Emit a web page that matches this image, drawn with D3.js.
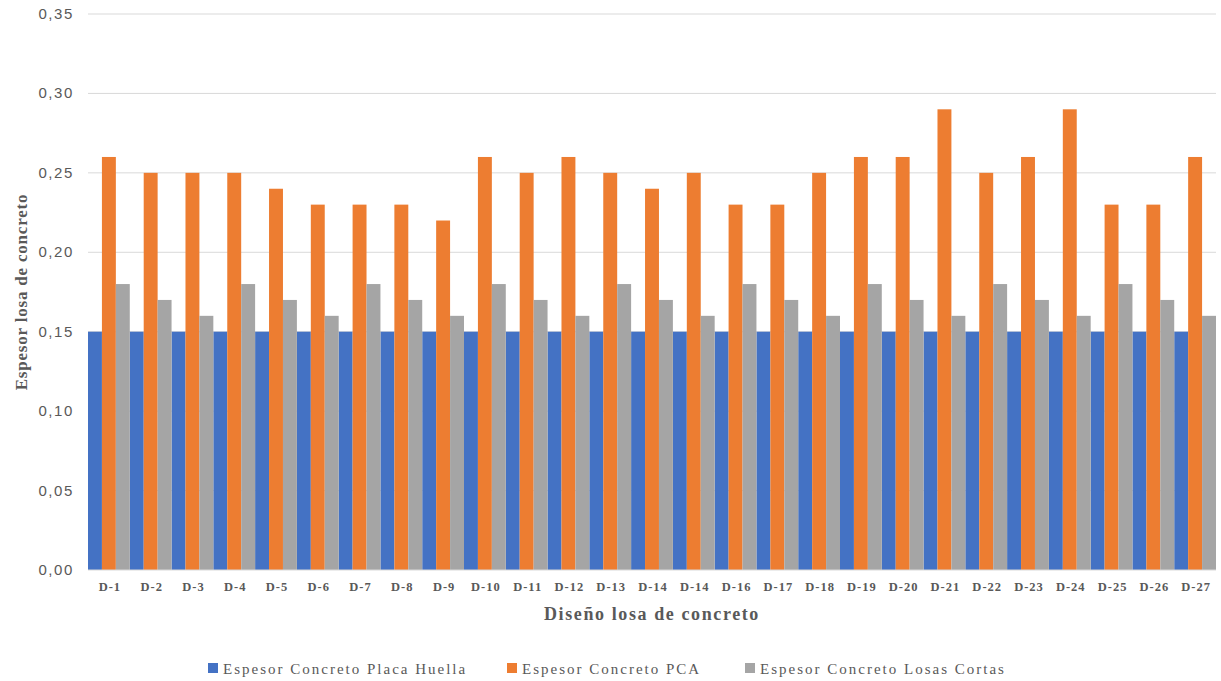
<!DOCTYPE html>
<html>
<head>
<meta charset="utf-8">
<script src="https://cdn.jsdelivr.net/npm/d3@7"></script>
<style>
  body { margin: 0; background: #fff; }
  svg { display: block; }
</style>
</head>
<body>
<div id="chart"></div>
<script>
// espesores de losa por diseño
const categories = ["D-1","D-2","D-3","D-4","D-5","D-6","D-7","D-8","D-9","D-10","D-11","D-12","D-13","D-14",
  "D-14","D-16","D-17","D-18","D-19","D-20","D-21","D-22","D-23","D-24","D-25","D-26","D-27"];
const seriesNames = ["Espesor Concreto Placa Huella","Espesor Concreto PCA","Espesor Concreto Losas Cortas"];
const placaHuella = [0.15,0.15,0.15,0.15,0.15,0.15,0.15,0.15,0.15,0.15,0.15,0.15,0.15,0.15,
  0.15,0.15,0.15,0.15,0.15,0.15,0.15,0.15,0.15,0.15,0.15,0.15,0.15];
const pca = [0.26,0.25,0.25,0.25,0.24,0.23,0.23,0.23,0.22,0.26,0.25,0.26,0.25,0.24,
  0.25,0.23,0.23,0.25,0.26,0.26,0.29,0.25,0.26,0.29,0.23,0.23,0.26];
const losasCortas = [0.18,0.17,0.16,0.18,0.17,0.16,0.18,0.17,0.16,0.18,0.17,0.16,0.18,0.17,
  0.16,0.18,0.17,0.16,0.18,0.17,0.16,0.18,0.17,0.16,0.18,0.17,0.16];
const yTicks = [0,0.05,0.10,0.15,0.20,0.25,0.30,0.35];
const colors = ["#4472c4","#ed7d31","#a5a5a5"];

const W = 1221, H = 681;
const margin = { left: 88, right: 5, top: 14, bottom: 111 };
const innerW = W - margin.left - margin.right;
const innerH = H - margin.top - margin.bottom;
const serif = "Liberation Serif, Times New Roman, serif";

const svg = d3.select("#chart").append("svg").attr("width", W).attr("height", H);
const chart = svg.append("g").attr("transform", `translate(${margin.left},${margin.top})`);

const idx = categories.map((d, i) => i);
const x = d3.scaleBand().domain(idx).range([0, innerW]).paddingInner(0).paddingOuter(0);
const xs = d3.scaleBand().domain([0,1,2]).range([0, x.bandwidth()]).padding(0);
const y = d3.scaleLinear().domain([0, 0.35]).range([innerH, 0]);

// gridlines
chart.append("g").selectAll("line").data(yTicks.slice(1)).enter().append("line")
  .attr("x1", 0).attr("x2", innerW)
  .attr("y1", d => y(d)).attr("y2", d => y(d))
  .attr("stroke", "#d9d9d9").attr("stroke-width", 1);

// y tick labels
chart.append("g").selectAll("text").data(yTicks).enter().append("text")
  .attr("x", -14).attr("y", d => y(d) + 5)
  .attr("text-anchor", "end")
  .attr("font-family", "Liberation Sans, Arial, sans-serif").attr("font-size", "15px")
  .attr("letter-spacing", "1.6px")
  .attr("fill", "#595959")
  .text(d => d3.format(".2f")(d).replace(".", ","));

// bars
const series = [placaHuella, pca, losasCortas];
series.forEach((vals, si) => {
  chart.append("g").selectAll("rect").data(vals).enter().append("rect")
    .attr("x", (d, i) => x(i) + xs(si))
    .attr("y", d => y(d))
    .attr("width", xs.bandwidth())
    .attr("height", d => innerH - y(d))
    .attr("fill", colors[si]);
});

// baseline
chart.append("line").attr("x1", 0).attr("x2", innerW)
  .attr("y1", innerH).attr("y2", innerH)
  .attr("stroke", "#d9d9d9").attr("stroke-width", 1);

// x labels
chart.append("g").selectAll("text").data(categories).enter().append("text")
  .attr("x", (d, i) => x(i) + x.bandwidth() / 2 + 1).attr("y", innerH + 21)
  .attr("text-anchor", "middle")
  .attr("font-family", serif).attr("font-size", "12.5px")
  .attr("letter-spacing", "1px")
  .attr("font-weight", "bold").attr("fill", "#595959")
  .text(d => d);

// axis titles
svg.append("text")
  .attr("x", 652).attr("y", 620)
  .attr("text-anchor", "middle")
  .attr("font-family", serif).attr("font-size", "18px")
  .attr("letter-spacing", "1.6px")
  .attr("font-weight", "bold").attr("fill", "#595959")
  .text("Diseño losa de concreto");

svg.append("text")
  .attr("transform", `translate(27, ${margin.top + 278}) rotate(-90)`)
  .attr("text-anchor", "middle")
  .attr("font-family", serif).attr("font-size", "17px")
  .attr("letter-spacing", "0.8px")
  .attr("font-weight", "bold").attr("fill", "#595959")
  .text("Espesor losa de concreto");

// legend
const legendX = [208, 507, 745];
const legend = svg.append("g").attr("transform", "translate(0, 674)");
seriesNames.forEach((name, i) => {
  legend.append("rect").attr("x", legendX[i]).attr("y", -11).attr("width", 10).attr("height", 10)
    .attr("fill", colors[i]);
  legend.append("text").attr("x", legendX[i] + 15).attr("y", 0)
    .attr("font-family", serif).attr("font-size", "15px")
    .attr("letter-spacing", "2px")
    .attr("fill", "#595959").text(name);
});
</script>
</body>
</html>
